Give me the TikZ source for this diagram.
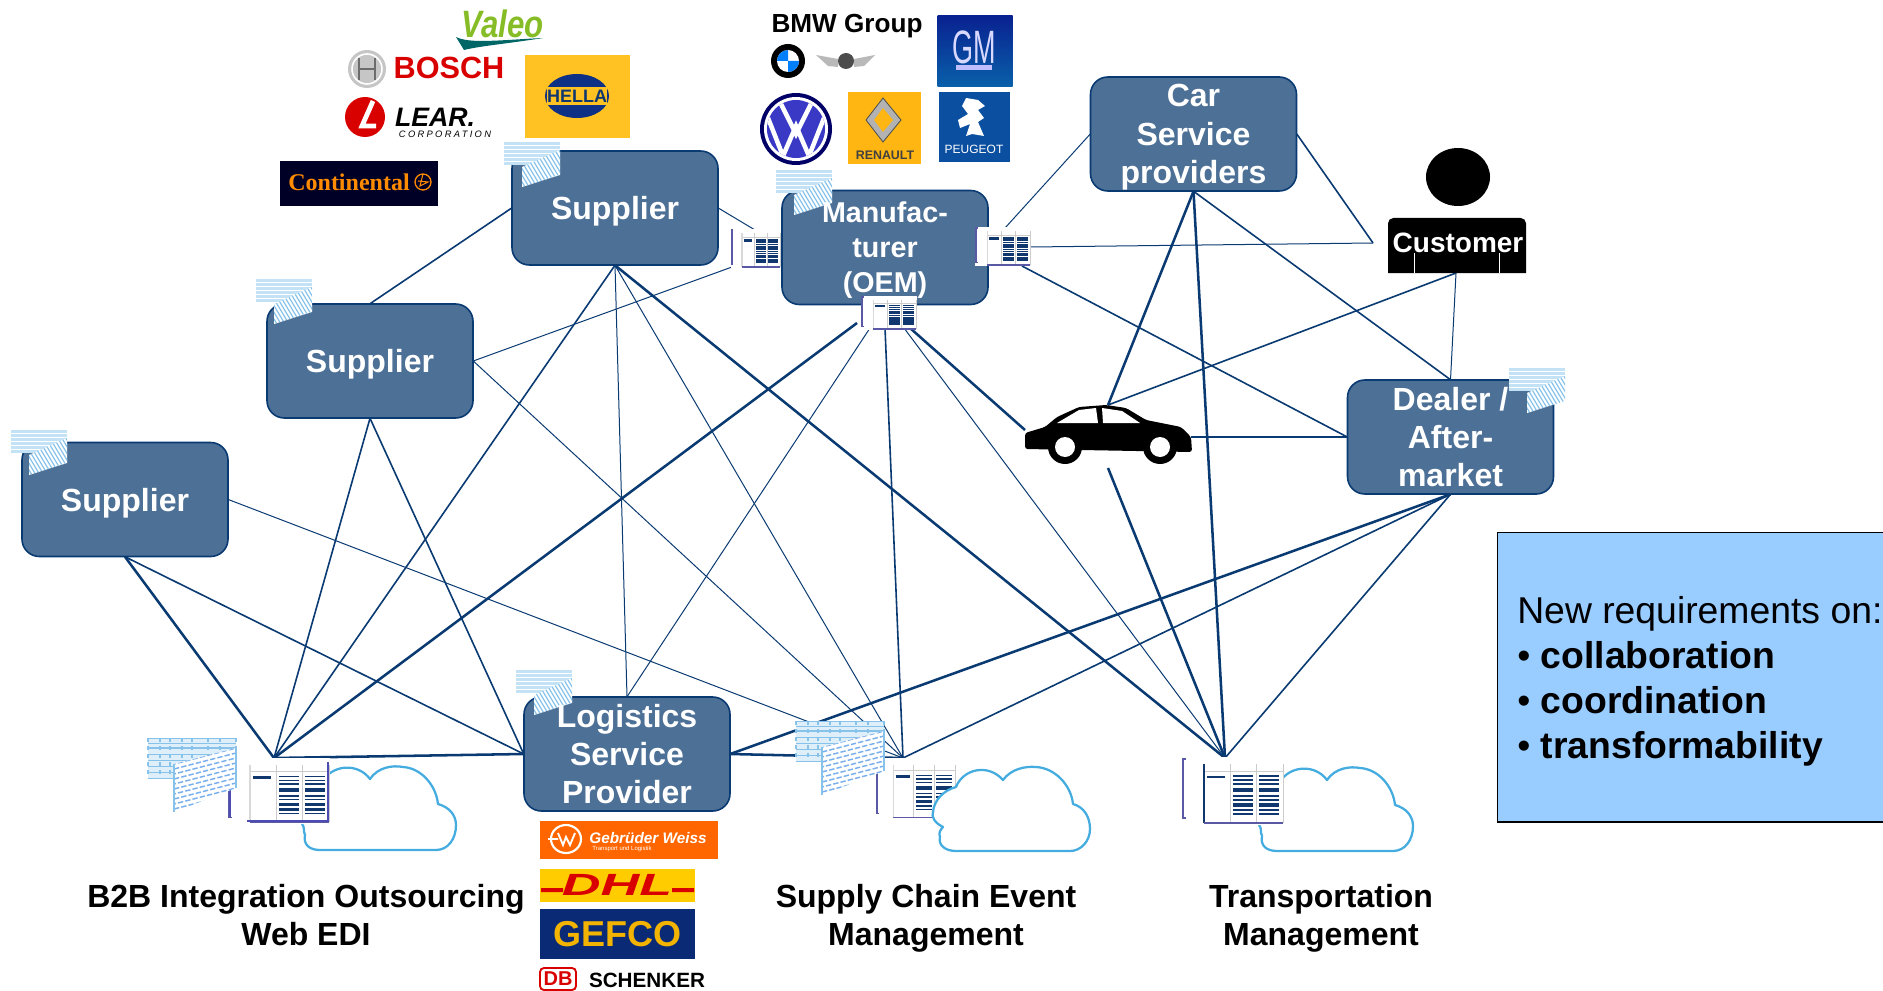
\documentclass[tikz,border=0pt]{standalone}
\usepackage{fontspec}
\setmainfont{Liberation Sans}
\newfontfamily\serifl{Liberation Serif}
\newfontfamily\spaced[LetterSpace=25]{Liberation Sans}
\newcommand{\fz}[2]{\fontsize{#1}{#2}\selectfont}
\definecolor{navy}{HTML}{0A3A72}
\definecolor{boxblue}{HTML}{4D7096}
\definecolor{noteblue}{HTML}{99CCFF}
\definecolor{cloudblue}{HTML}{45ACE0}
\definecolor{docstrip}{HTML}{C4E2F6}
\definecolor{dochatch}{HTML}{86C2EA}
\definecolor{barnavy}{HTML}{10386F}
\definecolor{hellay}{HTML}{FFC222}
\definecolor{renaulty}{HTML}{FFB612}
\definecolor{dhly}{HTML}{FFCC00}
\definecolor{gefconavy}{HTML}{0B2A75}
\definecolor{gefcoy}{HTML}{F2B400}
\definecolor{peugeotb}{HTML}{0A4FA0}
\definecolor{gwo}{HTML}{FF6600}
\definecolor{valeog}{HTML}{86BC25}
\colorlet{srvedge}{barnavy}
\tikzset{
  lkn/.style={navy,line width=0.75pt},
  lkm/.style={navy,line width=1.2pt},
  lkt/.style={navy,line width=1.9pt},
  bxg/.style={rectangle,minimum width=154.5pt,minimum height=85.5pt,inner sep=0pt},
  bx/.style={bxg,rounded corners=13pt,draw=navy,line width=1.2pt,fill=boxblue},
  bxt/.style={text=white,align=center,font=\bfseries\fz{24}{28.8},inner sep=0pt},
  bxs/.style={text=white,align=center,font=\bfseries\fz{21.5}{26},inner sep=0pt},
  captxt/.style={align=center,font=\bfseries\fz{24}{28.8},inner sep=0pt},
  logo/.style={inner sep=0pt,font=\bfseries},
  docicon/.pic={
    \fill[docstrip] (0,0) rectangle (56,23);
    \foreach \yy in {3,7,11,15,19}{\draw[white,line width=0.4pt] (0,\yy) -- (56,\yy);}
    \fill[white] (18,25) -- (56,8) -- (56,33) -- (18,45) -- cycle;
    \begin{scope}
      \clip (18,25) -- (56,8) -- (56,33) -- (18,45) -- cycle;
      \foreach \xx in {-30,-26,...,70}{\draw[dochatch,line width=0.9pt] (\xx,0) -- (\xx+30,50);}
    \end{scope}
  },
  docbig/.pic={
    \fill[docstrip!55!white] (0,0) rectangle (88,40);
    \foreach \yy in {0,5,16,22,28,34,40}{\draw[dochatch,line width=0.5pt] (0,\yy) -- (88,\yy);}
    \draw[dochatch,line width=1.2pt] (0,10) -- (88,10);
    \foreach \xx in {0,12,22,34,44,60,72,88}{\draw[dochatch,line width=0.8pt,dash pattern=on 3pt off 3pt] (\xx,0) -- (\xx,40);}
    \fill[white] (26,26) -- (88,10) -- (88,50) -- (26,74) -- cycle;
    \begin{scope}
      \clip (26,26) -- (88,10) -- (88,50) -- (26,74) -- cycle;
      \foreach \yy [count=\ii] in {0,5,...,60}{
        \pgfmathsetlengthmacro{\phs}{mod(\ii,2)*2.5pt}
        \draw[dochatch!90!blue,line width=1.1pt,dash pattern=on 4pt off 1.6pt,dash phase=\phs] (26,26+\yy) -- (88,10+\yy);
      }
    \end{scope}
    \draw[dochatch,line width=1pt] (26,26) -- (26,74) (88,10) -- (88,50);
  },
  srvicon/.pic={
    \fill[white] (-2,-2) rectangle (101,66);
    \draw[color=blue!30!gray,line width=0.9pt] (3,0) -- (0,0) -- (0,59) -- (3,59);
    \draw[gray!40,line width=0.5pt] (21,12) -- (100,12) (47,5) -- (47,64) (73,5) -- (73,64) (100,5) -- (100,64);
    \draw[srvedge,line width=1.1pt] (21,5) -- (21,64);
    \draw[gray!70!blue,line width=1.1pt] (21,64) -- (100,64);
    \draw[barnavy,line width=2pt] (24,18) -- (42,18);
    \foreach \xa/\xb in {50/70,76/96}{
      \foreach \yy/\ww in {17/1.2,21/1.2,25/1.2,31/2.6,37/1,41/1,46/2.4,51/1.6,55/1}{
        \draw[barnavy,line width=\ww pt] (\xa,\yy) -- (\xb,\yy);
      }
    }
  },
  cloudicon/.pic={
    \draw[cloudblue,line width=1.7pt,line join=round]
      (22,11) .. controls (32,-2) and (55,-4) .. (67,12)
      .. controls (75,0) and (90,-2) .. (100,0)
      .. controls (118,1) and (133,18) .. (135,37)
      .. controls (146,40) and (153,48) .. (153,58)
      .. controls (153,72) and (145,83) .. (133,83)
      -- (17,83)
      .. controls (7,83) and (0,78) .. (2,68)
      .. controls (0,64) and (2,60) .. (-1,57);
  },
  cloudfull/.pic={
    \draw[cloudblue,fill=white,line width=1.7pt,line join=round]
      (23,20) .. controls (30,2) and (55,-4) .. (70,13)
      .. controls (78,2) and (92,-1) .. (103,0)
      .. controls (122,1) and (138,18) .. (140,37)
      .. controls (151,40) and (157,50) .. (157,62)
      .. controls (157,74) and (148,84) .. (137,84)
      -- (23,84)
      .. controls (12,84) and (5,78) .. (7,70)
      .. controls (5,66) and (8,62) .. (10,60)
      .. controls (2,56) and (-2,50) .. (0,45)
      .. controls (1,33) and (11,23) .. (23,20) -- cycle;
  },
}
\begin{document}
\begin{tikzpicture}[x=0.75pt,y=-0.75pt]
\useasboundingbox (0,0) rectangle (1883,991);
\clip (0,0) rectangle (1883,991);
% note
\node[draw=black,line width=1.1pt,fill=noteblue,rectangle,anchor=north west,minimum width=300pt,minimum height=217pt,inner sep=0pt] (note) at (1497,532) {};
\node[anchor=north west,align=left,inner sep=0pt,font=\fz{28}{33.7}] (notetext) at (1517,596.5) {New requirements on:\\ • \textbf{collaboration}\\ • \textbf{coordination}\\ • \textbf{transformability}};
% clouds
\pic (cb) at (303,767) {cloudicon};
\pic (ct) at (1260,768) {cloudicon};
% named anchors
\coordinate (hb) at (274,758);
\coordinate (hs) at (903,758);
\coordinate (ht) at (1225,758);
\coordinate (olA) at (755,230);
\coordinate (olB) at (732,267);
\coordinate (obA) at (857,323);
\coordinate (obB) at (870,328);
\coordinate (obC) at (885,328);
\coordinate (obD) at (904,328);
\coordinate (obE) at (910,328);
\coordinate (orA) at (1005,228);
\coordinate (orB) at (1031,247);
\coordinate (orC) at (1022,266);
\coordinate (custL) at (1373,243);
\coordinate (custB) at (1456,273);
\coordinate (carT) at (1108,405);
\coordinate (carB) at (1108,468);
\coordinate (carL) at (1025,430);
\coordinate (carR) at (1191,437);
% box geometry (faces are drawn after the connectors)
\node[bxg] (s1) at (615,208) {};
\node[bxg] (s2) at (370,361) {};
\node[bxg] (s3) at (125,499.5) {};
\node[bxg] (oem) at (885,247.5) {};
\node[bxg] (csp) at (1193.5,134) {};
\node[bxg] (dl) at (1450.5,437) {};
\node[bxg] (lsp) at (627,754) {};
% connectors
\draw[lkm] (s1.west) -- (s2.north);
\draw[lkn] (s1.east) -- (olA);
\draw[lkn] (s2.east) -- (olB);
\draw[lkm] (s1.south) -- (hb);
\draw[lkn] (s1.south) -- (lsp.north);
\draw[lkn] (s1.south) -- (hs);
\draw[lkt] (s1.south) -- (ht);
\draw[lkm] (s2.south) -- (hb);
\draw[lkm] (s2.south) -- (lsp.west);
\draw[lkn] (s2.east) -- (hs);
\draw[lkt] (s3.south) -- (hb);
\draw[lkm] (s3.south) -- (lsp.west);
\draw[lkn] (s3.east) -- (hs);
\draw[lkt] (obA) -- (hb);
\draw[lkn] (obB) -- (lsp.north);
\draw[lkm] (obC) -- (hs);
\draw[lkn] (obD) -- (ht);
\draw[lkt] (obE) -- (carL);
\draw[lkn] (orA) -- (csp.west);
\draw[lkn] (orB) -- (custL);
\draw[lkm] (csp.east) -- (custL);
\draw[lkm] (orC) -- (dl.west);
\draw[lkt] (csp.south) -- (carT);
\draw[lkt] (csp.south) -- (ht);
\draw[lkm] (csp.south) -- (dl.north);
\draw[lkm] (custB) -- (carT);
\draw[lkn] (custB) -- (dl.north);
\draw[lkm] (carR) -- (dl.west);
\draw[lkt] (carB) -- (ht);
\draw[lkt] (dl.south) -- (lsp.east);
\draw[lkm] (dl.south) -- (hs);
\draw[lkm] (dl.south) -- (ht);
\draw[lkt] (lsp.west) -- (hb);
\draw[lkt] (lsp.east) -- (hs);
% box faces
\node[bx] (s1f) at (s1) {};
\node[bx] (s2f) at (s2) {};
\node[bx] (s3f) at (s3) {};
\node[bx] (oemf) at (oem) {};
\node[bx] (cspf) at (csp) {};
\node[bx] (dlf) at (dl) {};
\node[bx] (lspf) at (lsp) {};
% servers (large)
\colorlet{srvedge}{gray!30}
\pic[xscale=1,yscale=0.97] (sb) at (229,760) {srvicon};
\draw[gray!60!blue,line width=1.6pt] (328,762) -- (328,821) -- (247,821);
\draw[gray!60!blue,line width=1.6pt] (230,788) -- (230,817);
\pic[xscale=0.78,yscale=0.9] (ss) at (877,760) {srvicon};
\pic (cs) at (933,767) {cloudfull};
\colorlet{srvedge}{barnavy}
\pic (st) at (1183,759) {srvicon};
% documents
\pic (d1) at (504,142) {docicon};
\pic (d2) at (256,279) {docicon};
\pic (d3) at (11,430) {docicon};
\pic (d4) at (776,170) {docicon};
\pic (d5) at (1509,368) {docicon};
\pic (d6) at (516,670) {docicon};
\pic (d7) at (148,738) {docbig};
\pic (d8) at (796,721) {docbig};
% box text
\node[bxt] (s1t) at ([yshift=-2.6pt]s1) {Supplier};
\node[bxt] (s2t) at ([yshift=-2.2pt]s2) {Supplier};
\node[bxt] (s3t) at ([yshift=-2.6pt]s3) {Supplier};
\node[bxs] (oemt) at ([yshift=-2pt]oem) {Manufac-\\turer\\(OEM)};
\node[bxt] (cspt) at ([yshift=-2.6pt]csp) {Car\\Service\\providers};
\node[bxt] (dlt) at (dl) {Dealer /\\After-\\market};
\node[bxt] (lspt) at (lsp) {Logistics\\Service\\Provider};
% small servers
\colorlet{srvedge}{gray!30}
\pic[xscale=0.48,yscale=0.58] (sl) at (732,230) {srvicon};
\pic[xscale=0.54,yscale=0.58] (sr) at (976,228) {srvicon};
\pic[xscale=0.54,yscale=0.5] (so) at (862,297) {srvicon};
% customer
\fill[black] (1458,177) ellipse (32 and 29);
\fill[black] (1388,273) [rounded corners=4pt] -- (1388,218) -- (1526,218) [sharp corners] -- (1526,273) -- cycle;
\draw[white,line width=0.7pt] (1414.5,253) -- (1414.5,273) (1499.5,253) -- (1499.5,273);
\node[inner sep=0pt,text=white,font=\bfseries\fz{21}{25}] (cust) at (1458,243) {Customer};
% car
\fill[black,rounded corners=2pt] (1025,433) -- (1045,427) -- (1057,417) -- (1079,407) -- (1106,405) -- (1126,408) -- (1146,420) -- (1181,427) -- (1191,437) -- (1192,452) -- (1025,449) -- cycle;
\fill[white] (1057,423) -- (1079,410) -- (1096,408) -- (1098,423) -- cycle;
\fill[white] (1103,423) -- (1102,408) -- (1122,411) -- (1140,423) -- cycle;
\fill[black] (1065,447) circle (17);
\fill[white] (1065,447) circle (10);
\fill[black] (1160,447) circle (17);
\fill[white] (1160,447) circle (10);
% ---- supplier logos
\node[logo,text=valeog,font=\bfseries\itshape\fz{26}{30}] (valeo) at (503,24) {\scalebox{0.9}[1.1]{Valeo}};
\fill[teal!80!black] (456,37) .. controls (470,44) and (500,40) .. (543,38) .. controls (505,44) and (480,46) .. (464,50) -- cycle;
\fill[gray!45] (367,69) circle (19);
\draw[white,line width=1.2pt] (367,69) circle (15);
\draw[gray!85!black,line width=1pt] (359,58) -- (359,80) (375,58) -- (375,80) (359,69) -- (375,69);
\node[logo,text=red!85!black,font=\bfseries\fz{23}{26}] (bosch) at (449,68) {BOSCH};
\fill[red!85!black] (365,117) circle (20);
\draw[white,line width=3.6pt] (373,101) -- (362,126) -- (376,126);
\node[logo,font=\bfseries\itshape\fz{20}{24}] (lear) at (435,117) {LEAR.};
\node[logo,font=\spaced\itshape\fz{7}{8}] (learb) at (445,134) {CORPORATION};
\fill[hellay] (525,55) rectangle (630,138);
\fill[barnavy!85!blue] (577,96) ellipse (32 and 22);
\fill[hellay] (547,87) rectangle (607,105);
\node[logo,text=barnavy,font=\bfseries\fz{13.5}{16}] (hella) at (577,96) {HELLA};
\fill[black!85!blue] (280,161) rectangle (438,206);
\node[logo,text=orange!90!yellow,font=\serifl\bfseries\fz{18}{21}] (conti) at (349,182) {Continental};
\draw[orange!90!yellow,line width=1pt] (423,182) circle (8);
\draw[orange!90!yellow,line width=0.8pt] (423,174) -- (420,186) -- (428,182) -- (418,181);
% ---- OEM logos
\node[logo,font=\bfseries\fz{19.6}{23}] (bmw) at (847,26) {BMW Group};
\fill[black] (788,61) circle (17);
\begin{scope}
  \clip (788,61) circle (11);
  \fill[white] (776,49) rectangle (800,73);
  \fill[blue!50!cyan] (776,49) rectangle (788,61) (788,61) rectangle (800,73);
\end{scope}
\fill[gray!55] (816,55) -- (838,59) -- (838,67) -- (828,66) -- cycle;
\fill[gray!55] (875,55) -- (854,59) -- (854,67) -- (864,66) -- cycle;
\fill[black!70] (846,61) circle (8);
\shade[top color=gefconavy!80!blue,bottom color=peugeotb!90!cyan] (937.5,16) rectangle (1012.5,87);
\node[logo,text=white!85!blue,font=\fz{27}{30}] (gm) at (974,47) {\scalebox{0.75}[1.3]{GM}};
\fill[white!75!blue] (956,65) rectangle (992,70);
\fill[blue!40!black] (796,129) circle (36);
\fill[white] (796,129) circle (32);
\begin{scope}
  \clip (796,129) circle (29);
  \fill[blue!55!gray] (760,93) rectangle (832,165);
  \draw[white,line width=3.4pt] (778,98) -- (796,134) -- (814,98);
  \draw[white,line width=3.4pt] (768,118) -- (783,156) -- (796,126) -- (809,156) -- (824,118);
\end{scope}
\fill[renaulty] (848,92) rectangle (921,164);
\fill[gray!60!white,draw=gray!60!black,line width=0.6pt] (883,98) -- (901,120) -- (883,142) -- (866,120) -- cycle;
\fill[renaulty] (883,108) -- (893,120) -- (883,132) -- (874,120) -- cycle;
\node[logo,text=black!75,font=\bfseries\fz{9.3}{11}] (renault) at (885,155) {RENAULT};
\fill[peugeotb] (938.5,92) rectangle (1010,162);
\fill[white] (966,98) -- (978,100) -- (985,106) -- (978,110) -- (984,118) -- (978,122) -- (984,136) -- (972,134) -- (966,136) -- (970,124) -- (960,128) -- (958,120) -- (968,114) -- (962,106) -- cycle;
\node[logo,text=white,font=\fz{9}{11}] (peugeot) at (974,149) {PEUGEOT};
% ---- LSP logos
\fill[gwo] (540,821) rectangle (718,859);
\draw[white,line width=1.6pt] (566,839) ellipse (15 and 14);
\draw[white,line width=1.4pt] (548,839) -- (558,839) (558,833) -- (563,845) -- (566,837) -- (570,845) -- (575,833);
\node[logo,text=white,font=\bfseries\itshape\fz{11.5}{13}] (gw) at (648,838) {Gebrüder Weiss};
\node[logo,text=white,font=\fz{4.5}{5}] (gwb) at (622,849) {Transport und Logistik};
\fill[dhly] (540,869) rectangle (695,902);
\fill[red!85!black] (541,888) rectangle (563,892) (672,888) rectangle (694,892);
\node[logo,text=red!85!black,font=\bfseries\itshape\fz{23}{26}] (dhl) at (617,885) {\scalebox{1.75}[1]{DHL}};
\fill[gefconavy] (540,909) rectangle (695,959);
\node[logo,text=gefcoy,font=\bfseries\fz{27}{31}] (gefco) at (617,934) {GEFCO};
\draw[red!85!black,line width=1.4pt,rounded corners=3pt] (540,968) rectangle (576,990);
\node[logo,text=red!85!black,font=\bfseries\fz{15}{16}] (db) at (558,979) {DB};
\node[logo,font=\bfseries\fz{15.5}{18}] (schenker) at (647,980) {SCHENKER};
% captions
\node[captxt] (c1) at (306,915) {B2B Integration Outsourcing\\Web EDI};
\node[captxt] (c2) at (926,918) {Supply Chain Event\\Management};
\node[captxt] (c3) at (1321,918) {Transportation\\Management};
\end{tikzpicture}
\end{document}
